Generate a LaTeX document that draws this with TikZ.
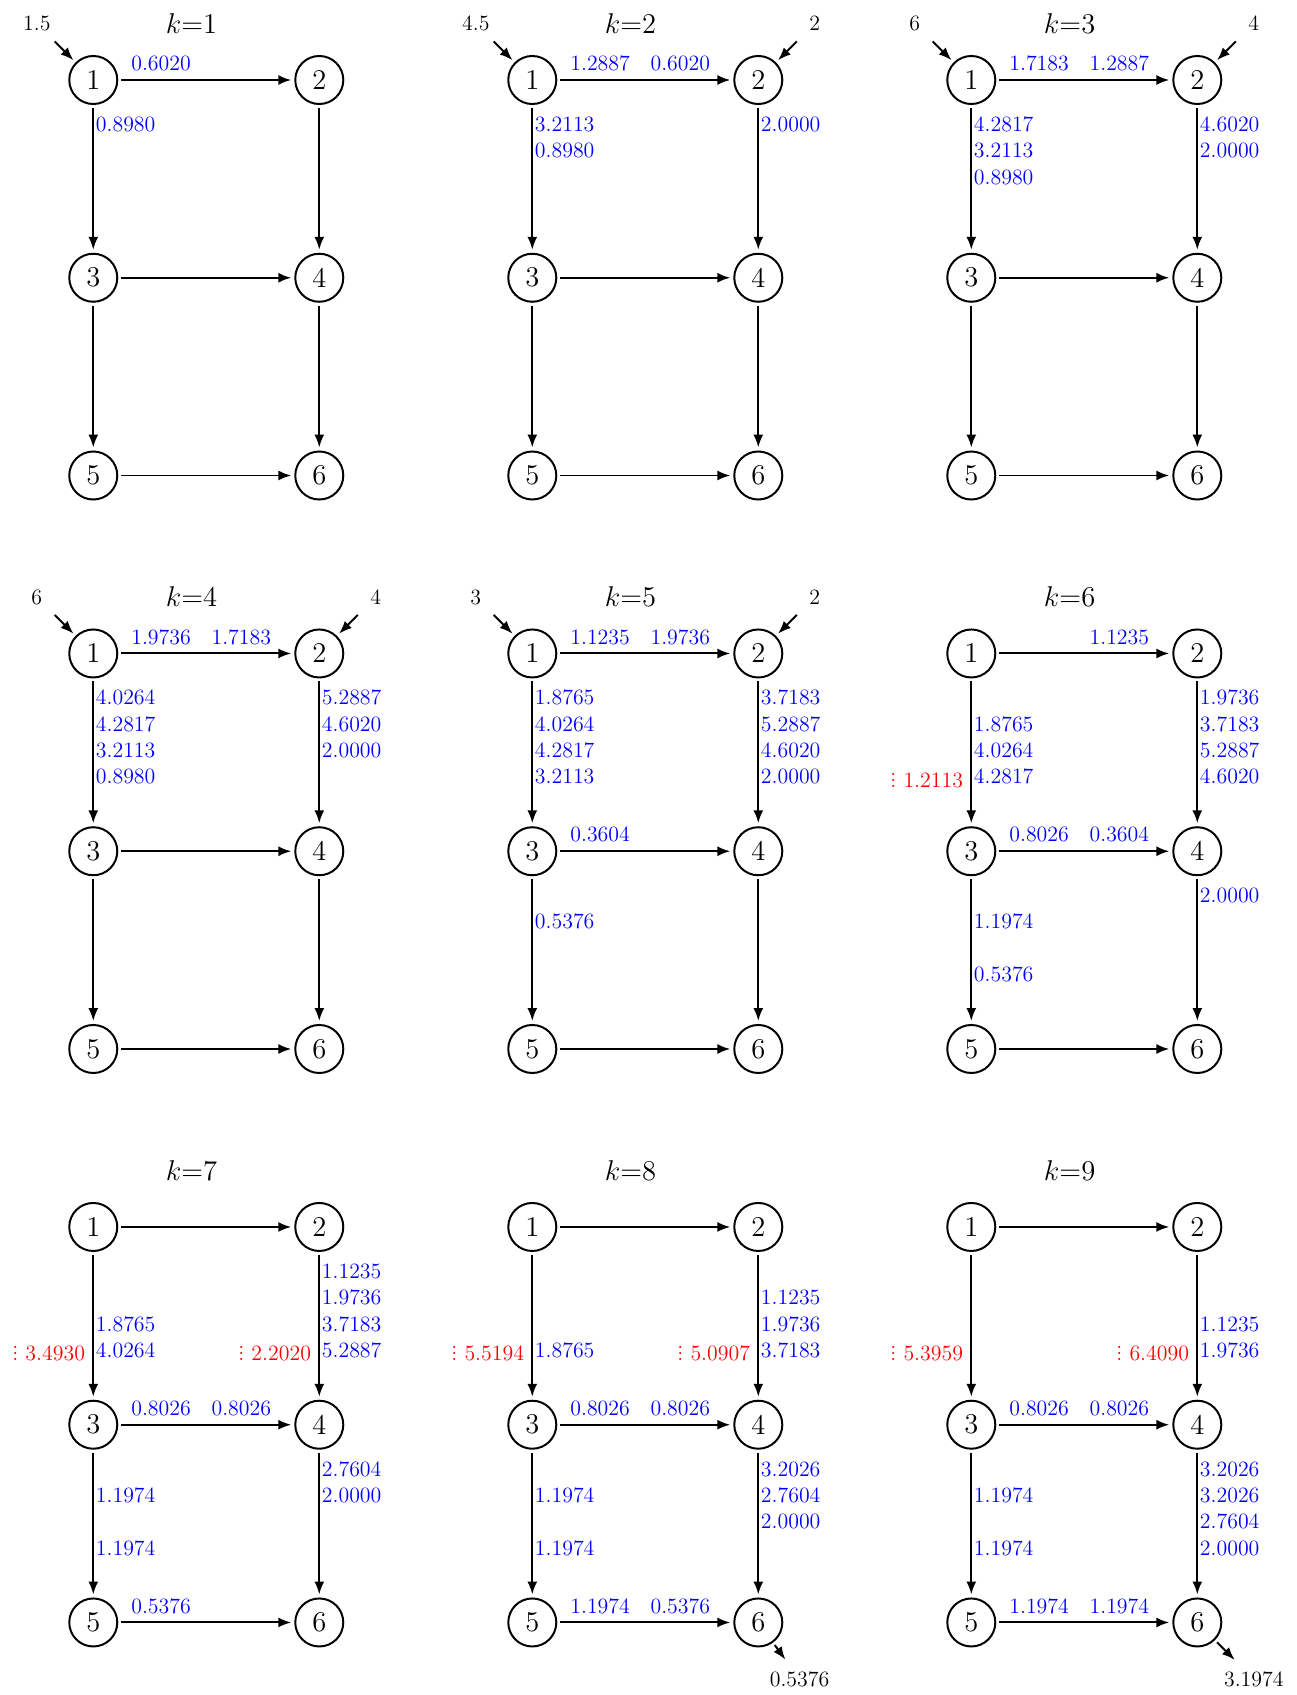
\documentclass[tikz,border=0pt]{standalone}
\usetikzlibrary{arrows.meta}

\newcommand{\vdt}{\vbox{\baselineskip=3pt\lineskiplimit=0pt\hbox{.}\hbox{.}\hbox{.}}}
% labels stacked to the right of a vertical edge: name, x, y of the tail node, slot/value list
\newcommand{\vstack}[4]{\foreach \s/\v in {#4} \node at ({#2+0.04},{#3-0.444-0.466*\s}) (#1-\s) [vlab] {\v};}

\begin{document}
\begin{tikzpicture}[
	vertex/.style={ circle, draw, line width=1pt, inner sep=0pt, minimum size=0.85cm, font=\Large },
	edge/.style={ line width=1pt, -{Latex[length=6.5pt,width=5pt]}, shorten >=1.5pt, shorten <=1.5pt },
	hlab/.style={ blue, anchor=base, inner sep=0pt, font=\fontsize{11}{13}\selectfont },
	vlab/.style={ blue, anchor=base west, inner sep=0pt, font=\fontsize{11}{13}\selectfont },
	rlab/.style={ red, anchor=base east, inner sep=0pt, font=\fontsize{11}{13}\selectfont },
	io/.style={ anchor=base, inner sep=0pt, font=\fontsize{11}{13}\selectfont },
	title/.style={ anchor=base, font=\fontsize{15}{18}\selectfont }
]

\useasboundingbox (-1.651,-28.584) rectangle (21.304,1.416);

% the nine graphs
\foreach \k/\c/\r in {1/0/0,2/1/0,3/2/0,4/0/1,5/1/1,6/2/1,7/0/2,8/1/2,9/2/2} {
\begin{scope}[shift={(7.77*\c,-10.15*\r)}, name prefix=k\k-]
\node at (0,0) (1) [vertex] {1};
\node at (4,0) (2) [vertex] {2};
\node at (0,-3.5) (3) [vertex] {3};
\node at (4,-3.5) (4) [vertex] {4};
\node at (0,-7) (5) [vertex] {5};
\node at (4,-7) (6) [vertex] {6};
\node at (1.74,0.83) (t) [title] {$k{=}\k$};
\foreach \a/\b in {1/2,1/3,2/4,3/4,3/5,4/6,5/6} \draw[edge] (\a) to (\b);
\end{scope}
}

% k=1
\begin{scope}[name prefix=k1-]
\node at (-1,0.873) (in1) [io] {1.5};
\coordinate (s1) at (-0.72,0.72);
\draw[edge] (s1) to (1);
\node at (1.2,0.165) (e12-a) [hlab] {0.6020};
\vstack{e13}{0}{0}{1/0.8980}
\end{scope}

% k=2
\begin{scope}[shift={(7.77,0)}, name prefix=k2-]
\node at (-1,0.873) (in1) [io] {4.5};
\node at (5,0.873) (in2) [io] {2};
\coordinate (s1) at (-0.72,0.72);
\coordinate (s2) at (4.72,0.72);
\draw[edge] (s1) to (1);
\draw[edge] (s2) to (2);
\node at (1.2,0.165) (e12-a) [hlab] {1.2887};
\node at (2.62,0.165) (e12-b) [hlab] {0.6020};
\vstack{e13}{0}{0}{1/3.2113,2/0.8980}
\vstack{e24}{4}{0}{1/2.0000}
\end{scope}

% k=3
\begin{scope}[shift={(15.54,0)}, name prefix=k3-]
\node at (-1,0.873) (in1) [io] {6};
\node at (5,0.873) (in2) [io] {4};
\coordinate (s1) at (-0.72,0.72);
\coordinate (s2) at (4.72,0.72);
\draw[edge] (s1) to (1);
\draw[edge] (s2) to (2);
\node at (1.2,0.165) (e12-a) [hlab] {1.7183};
\node at (2.62,0.165) (e12-b) [hlab] {1.2887};
\vstack{e13}{0}{0}{1/4.2817,2/3.2113,3/0.8980}
\vstack{e24}{4}{0}{1/4.6020,2/2.0000}
\end{scope}

% k=4
\begin{scope}[shift={(0,-10.15)}, name prefix=k4-]
\node at (-1,0.873) (in1) [io] {6};
\node at (5,0.873) (in2) [io] {4};
\coordinate (s1) at (-0.72,0.72);
\coordinate (s2) at (4.72,0.72);
\draw[edge] (s1) to (1);
\draw[edge] (s2) to (2);
\node at (1.2,0.165) (e12-a) [hlab] {1.9736};
\node at (2.62,0.165) (e12-b) [hlab] {1.7183};
\vstack{e13}{0}{0}{1/4.0264,2/4.2817,3/3.2113,4/0.8980}
\vstack{e24}{4}{0}{1/5.2887,2/4.6020,3/2.0000}
\end{scope}

% k=5
\begin{scope}[shift={(7.77,-10.15)}, name prefix=k5-]
\node at (-1,0.873) (in1) [io] {3};
\node at (5,0.873) (in2) [io] {2};
\coordinate (s1) at (-0.72,0.72);
\coordinate (s2) at (4.72,0.72);
\draw[edge] (s1) to (1);
\draw[edge] (s2) to (2);
\node at (1.2,0.165) (e12-a) [hlab] {1.1235};
\node at (2.62,0.165) (e12-b) [hlab] {1.9736};
\vstack{e13}{0}{0}{1/1.8765,2/4.0264,3/4.2817,4/3.2113}
\vstack{e24}{4}{0}{1/3.7183,2/5.2887,3/4.6020,4/2.0000}
\node at (1.2,-3.335) (e34-a) [hlab] {0.3604};
\vstack{e35}{0}{-3.5}{2/0.5376}
\end{scope}

% k=6
\begin{scope}[shift={(15.54,-10.15)}, name prefix=k6-]
\node at (2.62,0.165) (e12-b) [hlab] {1.1235};
\vstack{e13}{0}{0}{2/1.8765,3/4.0264,4/4.2817}
\node at (-0.14,-2.37) (r13) [rlab] {\vdt\ 1.2113};
\vstack{e24}{4}{0}{1/1.9736,2/3.7183,3/5.2887,4/4.6020}
\node at (1.2,-3.335) (e34-a) [hlab] {0.8026};
\node at (2.62,-3.335) (e34-b) [hlab] {0.3604};
\vstack{e35}{0}{-3.5}{2/1.1974,4/0.5376}
\vstack{e46}{4}{-3.5}{1/2.0000}
\end{scope}

% k=7
\begin{scope}[shift={(0,-20.3)}, name prefix=k7-]
\vstack{e13}{0}{0}{3/1.8765,4/4.0264}
\node at (-0.14,-2.37) (r13) [rlab] {\vdt\ 3.4930};
\vstack{e24}{4}{0}{1/1.1235,2/1.9736,3/3.7183,4/5.2887}
\node at (3.86,-2.37) (r24) [rlab] {\vdt\ 2.2020};
\node at (1.2,-3.335) (e34-a) [hlab] {0.8026};
\node at (2.62,-3.335) (e34-b) [hlab] {0.8026};
\vstack{e35}{0}{-3.5}{2/1.1974,4/1.1974}
\vstack{e46}{4}{-3.5}{1/2.7604,2/2.0000}
\node at (1.2,-6.835) (e56-a) [hlab] {0.5376};
\end{scope}

% k=8
\begin{scope}[shift={(7.77,-20.3)}, name prefix=k8-]
\vstack{e13}{0}{0}{4/1.8765}
\node at (-0.14,-2.37) (r13) [rlab] {\vdt\ 5.5194};
\vstack{e24}{4}{0}{2/1.1235,3/1.9736,4/3.7183}
\node at (3.86,-2.37) (r24) [rlab] {\vdt\ 5.0907};
\node at (1.2,-3.335) (e34-a) [hlab] {0.8026};
\node at (2.62,-3.335) (e34-b) [hlab] {0.8026};
\vstack{e35}{0}{-3.5}{2/1.1974,4/1.1974}
\vstack{e46}{4}{-3.5}{1/3.2026,2/2.7604,3/2.0000}
\node at (1.2,-6.835) (e56-a) [hlab] {1.1974};
\node at (2.62,-6.835) (e56-b) [hlab] {0.5376};
\coordinate (o6) at (4.51,-7.70);
\draw[edge] (6) to (o6);
\node at (4.73,-8.138) (out6) [io] {0.5376};
\end{scope}

% k=9
\begin{scope}[shift={(15.54,-20.3)}, name prefix=k9-]
\node at (-0.14,-2.37) (r13) [rlab] {\vdt\ 5.3959};
\vstack{e24}{4}{0}{3/1.1235,4/1.9736}
\node at (3.86,-2.37) (r24) [rlab] {\vdt\ 6.4090};
\node at (1.2,-3.335) (e34-a) [hlab] {0.8026};
\node at (2.62,-3.335) (e34-b) [hlab] {0.8026};
\vstack{e35}{0}{-3.5}{2/1.1974,4/1.1974}
\vstack{e46}{4}{-3.5}{1/3.2026,2/3.2026,3/2.7604,4/2.0000}
\node at (1.2,-6.835) (e56-a) [hlab] {1.1974};
\node at (2.62,-6.835) (e56-b) [hlab] {1.1974};
\coordinate (o6) at (4.70,-7.70);
\draw[edge] (6) to (o6);
\node at (5.0,-8.138) (out6) [io] {3.1974};
\end{scope}

\end{tikzpicture}
\end{document}
